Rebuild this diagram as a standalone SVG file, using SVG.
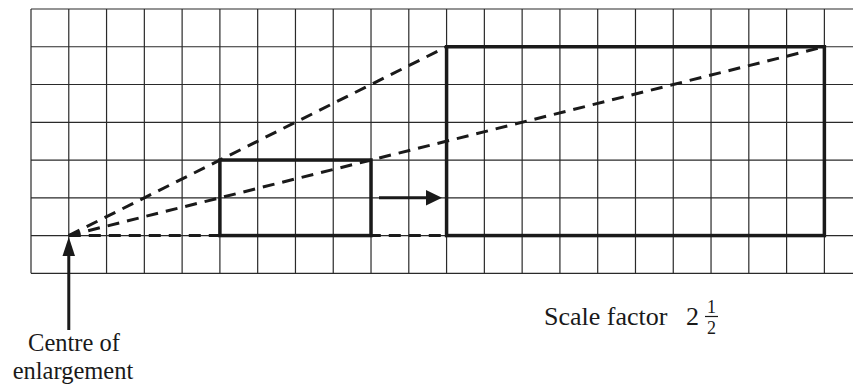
<svg xmlns="http://www.w3.org/2000/svg" width="853" height="385" viewBox="0 0 853 385">
<style>
.grid{stroke:#2a2a2a;stroke-width:1.2;fill:none}
.shape{stroke:#1a1a1a;stroke-width:3.5;fill:none;stroke-linejoin:miter}
.dash{stroke:#1a1a1a;stroke-width:3;stroke-dasharray:12 8;fill:none}
.arrow{stroke:#1a1a1a;stroke-width:3;fill:none}
.head{fill:#1a1a1a}
text{font-family:"Liberation Serif","Times New Roman",serif;fill:#1a1a1a}
</style>
<rect width="853" height="385" fill="#fff"/>
<g id="grid">
<path class="grid" d="M31,9H853 M31,46.76H853 M31,84.52H853 M31,122.28H853 M31,160.04H853 M31,197.8H853 M31,235.56H853 M31,273.32H853
M31,9V273.32 M68.78,9V273.32 M106.56,9V273.32 M144.34,9V273.32 M182.12,9V273.32 M219.9,9V273.32 M257.68,9V273.32 M295.46,9V273.32 M333.24,9V273.32 M371.02,9V273.32 M408.8,9V273.32 M446.58,9V273.32 M484.36,9V273.32 M522.14,9V273.32 M559.92,9V273.32 M597.7,9V273.32 M635.48,9V273.32 M673.26,9V273.32 M711.04,9V273.32 M748.82,9V273.32 M786.6,9V273.32 M824.38,9V273.32"/>
</g>
<g id="connectors">
<path class="dash" d="M68.78,235.56L446.58,46.76"/>
<path class="dash" d="M68.78,235.56L824.38,46.76"/>
<path class="dash" d="M68.78,235.56H446.58"/>
<path class="arrow" d="M379,197.8H428"/>
<polygon class="head" points="442,197.8 426,190 426,205.6"/>
<path class="arrow" d="M68.78,330V252"/>
<polygon class="head" points="68.78,237 62.5,256 75,256"/>
</g>
<g id="small-rect">
<rect class="shape" x="219.9" y="160.04" width="151.12" height="75.52"/>
</g>
<g id="large-rect">
<rect class="shape" x="446.58" y="46.76" width="377.8" height="188.8"/>
</g>
<g id="centre-label">
<text x="74" y="351" font-size="24.5" text-anchor="middle">Centre of</text>
<text x="73" y="379" font-size="24.5" text-anchor="middle">enlargement</text>
</g>
<g id="scale-label">
<text x="544" y="325" font-size="26">Scale factor</text>
<text x="686" y="325" font-size="26">2</text>
<text x="711.5" y="313" font-size="18" text-anchor="middle">1</text>
<line x1="705" y1="316.5" x2="718" y2="316.5" stroke="#1a1a1a" stroke-width="1.2"/>
<text x="711.5" y="334" font-size="18" text-anchor="middle">2</text>
</g>
</svg>
